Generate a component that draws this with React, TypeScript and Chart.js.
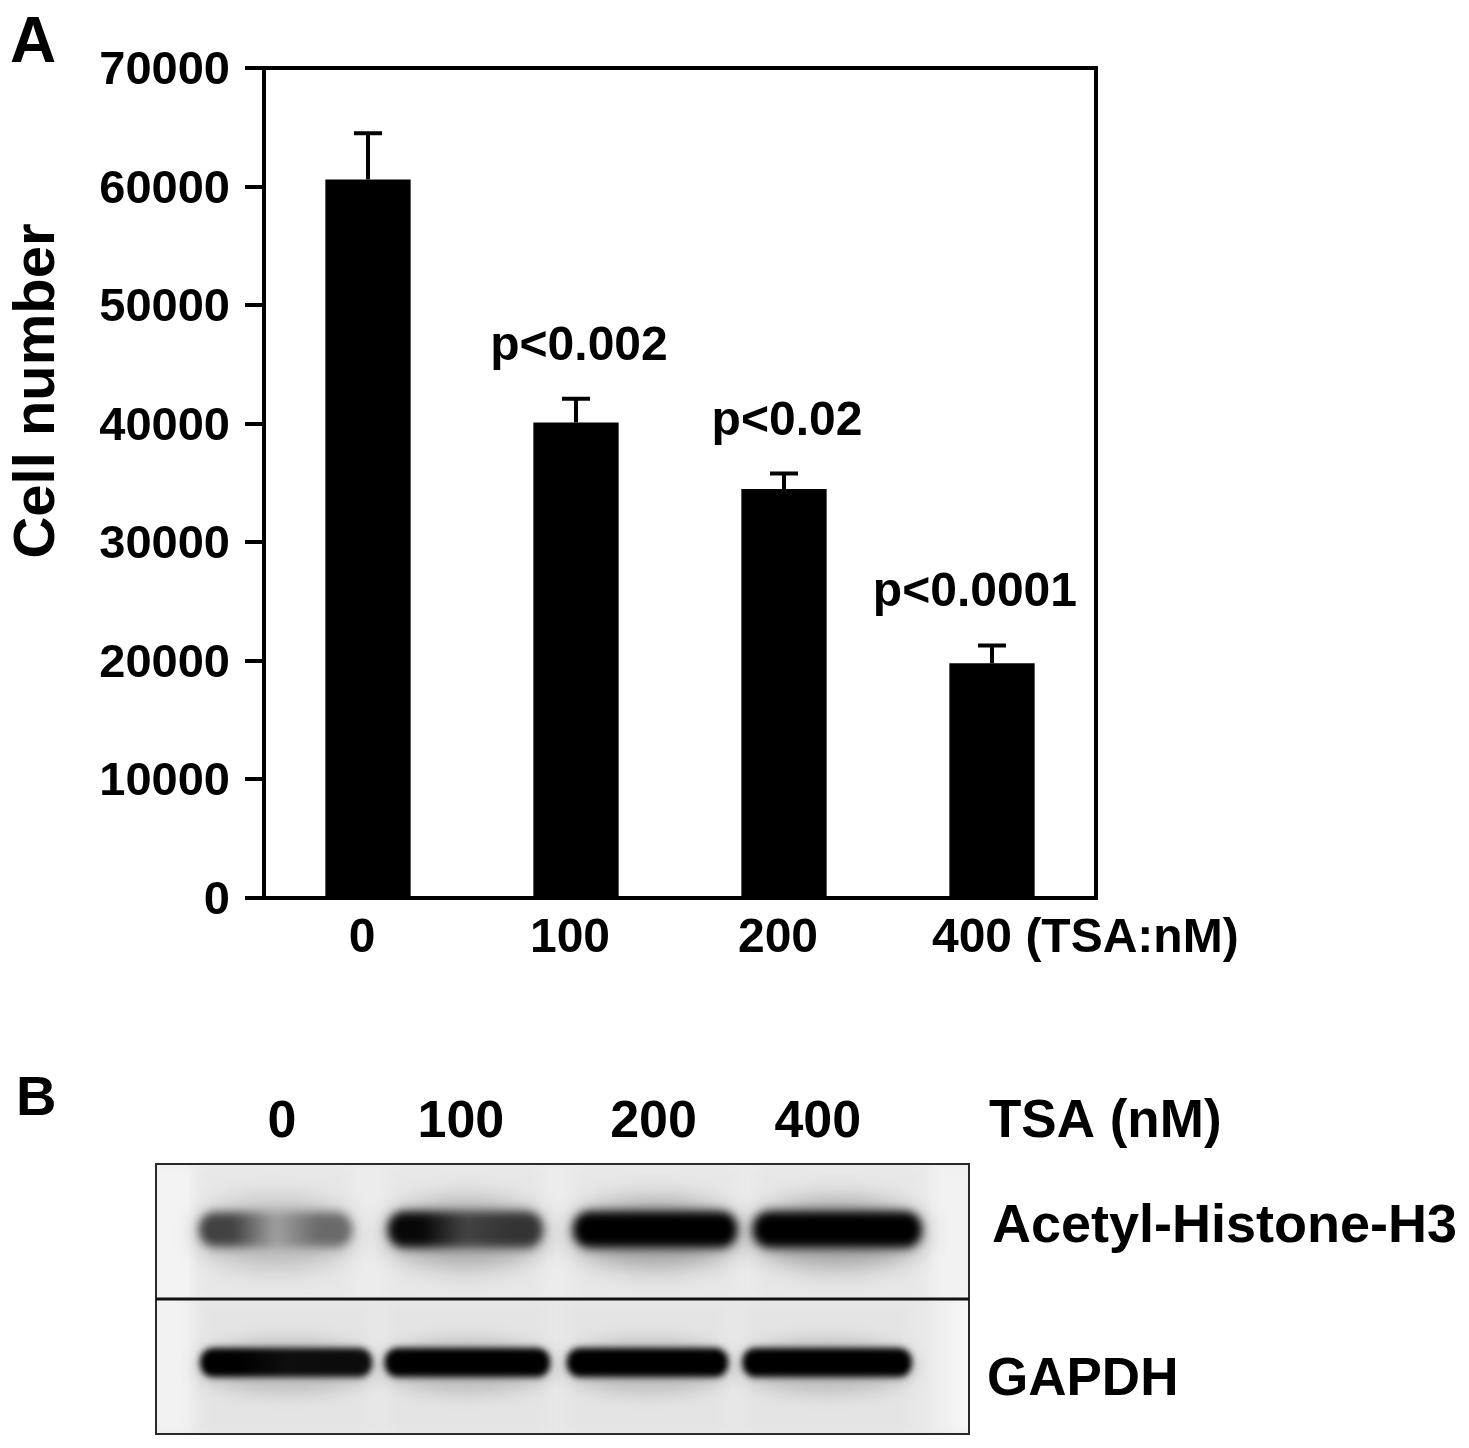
import React, { useEffect, useRef } from 'react';
import { Chart, registerables } from 'chart.js';

Chart.register(...registerables);

const FONT = '"Liberation Sans", Arial, Helvetica, sans-serif';

// ---------- Panel A data ----------
const tsaDoses = ['0', '100', '200', '400'];
const cellNumber = [60600, 40100, 34500, 19800];
const cellNumberError = [3900, 2000, 1300, 1500];
const pValueLabels = ['', 'p<0.002', 'p<0.02', 'p<0.0001'];
const yAxisMin = 0;
const yAxisMax = 70000;
const yAxisStep = 10000;
const yAxisTitle = 'Cell number';
const xUnitLabel = '(TSA:nM)';
const panelALetter = 'A';

// ---------- Panel B data (western blot) ----------
const panelBLetter = 'B';
const blotTitle = 'TSA (nM)';
const blotRows = ['Acetyl-Histone-H3', 'GAPDH'];
const blotLaneLabels = ['0', '100', '200', '400'];
const blotLaneLabelPos = [15.5, 37.5, 61.2, 81.4];
// two sub-spots per lane (x in % of membrane width)
const acetylSpotPos = [9.5, 19.9, 32.7, 43.4, 55.5, 67.3, 77.6, 90.0];
const acetylSignal = [0.72, 0.55, 0.97, 0.78, 1, 1, 1, 1];
const gapdhSpotPos = [10.1, 21.9, 32.8, 43.8, 55.2, 65.7, 76.8, 88.3];
const gapdhSignal = [1, 0.95, 1, 1, 1, 1, 1, 1];

const font = (size: number) => `bold ${size}px ${FONT}`;

const X_TICK_PADDING = 4;
const X_TICK_LENGTH = 8;
const X_FONT_SIZE = 48;

const panelAPlugin = {
  id: 'panelA',
  afterDatasetsDraw(chart: any) {
    const { ctx, chartArea: ca, scales } = chart;
    const y = scales.y;
    const meta = chart.getDatasetMeta(0);
    ctx.save();
    ctx.strokeStyle = '#000';
    ctx.fillStyle = '#000';
    ctx.lineWidth = 4;
    meta.data.forEach((bar: any, i: number) => {
      const base = y.getPixelForValue(cellNumber[i]);
      const top = y.getPixelForValue(cellNumber[i] + cellNumberError[i]);
      ctx.beginPath();
      ctx.moveTo(bar.x, base);
      ctx.lineTo(bar.x, top);
      ctx.moveTo(bar.x - 14, top);
      ctx.lineTo(bar.x + 14, top);
      ctx.stroke();
      if (pValueLabels[i]) {
        ctx.font = font(48);
        ctx.textAlign = 'center';
        ctx.textBaseline = 'alphabetic';
        const tw = ctx.measureText(pValueLabels[i]).width;
        const cx = Math.min(bar.x + 3, ca.right - 19 - tw / 2);
        ctx.fillText(pValueLabels[i], cx, top - 39);
      }
    });
    ctx.lineCap = 'square';
    ctx.beginPath();
    ctx.moveTo(ca.left, ca.top);
    ctx.lineTo(ca.right, ca.top);
    ctx.lineTo(ca.right, ca.bottom);
    ctx.stroke();
    ctx.restore();
  },
  afterDraw(chart: any) {
    const { ctx, chartArea: ca, scales } = chart;
    const xs = scales.x;
    ctx.save();
    ctx.fillStyle = '#000';
    ctx.font = font(64);
    ctx.textAlign = 'left';
    ctx.textBaseline = 'alphabetic';
    ctx.fillText(panelALetter, 10, 62);
    // y title
    ctx.save();
    ctx.translate(38, (ca.top + ca.bottom) / 2 - 92);
    ctx.rotate(-Math.PI / 2);
    ctx.font = font(58);
    ctx.textAlign = 'center';
    ctx.textBaseline = 'middle';
    ctx.fillText(yAxisTitle, 0, 0);
    ctx.restore();
    // last x label with unit
    ctx.font = font(X_FONT_SIZE);
    const last = tsaDoses.length - 1;
    const lx = xs.getPixelForTick(last) - 6;
    const w = ctx.measureText(tsaDoses[last]).width;
    ctx.textAlign = 'left';
    ctx.textBaseline = 'middle';
    ctx.fillText(
      `${tsaDoses[last]} ${xUnitLabel}`,
      lx - w / 2 - 14,
      xs.top + X_TICK_LENGTH + X_TICK_PADDING + (X_FONT_SIZE * 1.2) / 2
    );
    ctx.restore();
  },
};

const grayOf = (v: number) => {
  const g = Math.round(236 * (1 - Math.max(0, Math.min(1, v))));
  return `rgb(${g},${g},${g})`;
};

const blotPlugin = {
  id: 'blot',
  beforeDatasetsDraw(chart: any) {
    const { ctx, chartArea: ca, scales } = chart;
    const x = scales.x;
    const y = scales.y;
    const rowEdge = y.getPixelForValue(0.5);
    const px = (v: number) => x.getPixelForValue(v);
    ctx.save();
    ctx.fillStyle = '#ececec';
    ctx.fillRect(ca.left, ca.top, ca.width, rowEdge - ca.top);
    ctx.fillStyle = '#e9e9e9';
    ctx.fillRect(ca.left, rowEdge, ca.width, ca.bottom - rowEdge);
    ctx.filter = 'blur(6px)';
    ctx.fillStyle = 'rgba(255,255,255,0.4)';
    ctx.fillRect(ca.left - 10, ca.top, px(4.5) - ca.left + 10, ca.height);
    ctx.fillStyle = 'rgba(255,255,255,0.3)';
    ctx.fillRect(px(95.5), ca.top, ca.right - px(95.5) + 10, ca.height);
    ctx.fillStyle = 'rgba(255,255,255,0.6)';
    ctx.fillRect(px(98.3), rowEdge, ca.right - px(98.3) + 10, ca.bottom - rowEdge);
    ctx.filter = 'none';

    const rows = [
      { meta: chart.getDatasetMeta(0), sig: acetylSignal, halfPct: 4.18, h: 36, blur: 5, dy: -2, top: ca.top, bottom: rowEdge, halo: 0.32, haloH: 66, haloBlur: 12 },
      { meta: chart.getDatasetMeta(1), sig: gapdhSignal, halfPct: 4.67, h: 29, blur: 3, dy: -4, top: rowEdge, bottom: ca.bottom, halo: 0.18, haloH: 52, haloBlur: 9 },
    ];
    rows.forEach((r) => {
      ctx.save();
      ctx.beginPath();
      ctx.rect(ca.left, r.top, ca.width, r.bottom - r.top);
      ctx.clip();
      const half = px(r.halfPct) - px(0);
      const pts = r.meta.data;
      for (let k = 0; k + 1 < pts.length; k += 2) {
        const p1 = pts[k];
        const p2 = pts[k + 1];
        const v1 = r.sig[k];
        const v2 = r.sig[k + 1];
        const x0 = p1.x - half;
        const x1 = p2.x + half;
        const total = x1 - x0;
        const cy = (p1.y + p2.y) / 2 + r.dy;
        ctx.filter = 'blur(8px)';
        ctx.fillStyle = 'rgba(0,0,0,0.02)';
        ctx.fillRect(x0, r.top, total, r.bottom - r.top);
        ctx.filter = `blur(${r.haloBlur}px)`;
        ctx.fillStyle = `rgba(0,0,0,${r.halo * (v1 + v2) / 2})`;
        ctx.beginPath();
        ctx.ellipse((x0 + x1) / 2, cy + 4, total / 2 + 4, r.haloH / 2, 0, 0, Math.PI * 2);
        ctx.fill();
        const mid = Math.pow((v1 + v2) / 2, 2.5);
        const g = ctx.createLinearGradient(x0, 0, x1, 0);
        g.addColorStop(0, grayOf(v1));
        g.addColorStop(Math.min(0.49, half / total), grayOf(v1));
        g.addColorStop(0.5, grayOf(mid));
        g.addColorStop(Math.max(0.51, 1 - half / total), grayOf(v2));
        g.addColorStop(1, grayOf(v2));
        ctx.filter = `blur(${r.blur}px)`;
        ctx.globalCompositeOperation = 'darken';
        ctx.fillStyle = g;
        ctx.beginPath();
        const hh = r.h * (0.8 + 0.2 * Math.max(v1, v2));
        if (ctx.roundRect) ctx.roundRect(x0, cy - hh / 2, total, hh, hh / 2.2);
        else ctx.rect(x0, cy - hh / 2, total, hh);
        ctx.fill();
        ctx.globalCompositeOperation = 'source-over';
      }
      ctx.restore();
    });
    ctx.filter = 'none';
    ctx.strokeStyle = '#2a2a2a';
    ctx.lineWidth = 2;
    ctx.strokeRect(ca.left, ca.top, ca.width, ca.height);
    ctx.strokeStyle = '#111';
    ctx.lineWidth = 3;
    ctx.beginPath();
    ctx.moveTo(ca.left, rowEdge);
    ctx.lineTo(ca.right, rowEdge);
    ctx.stroke();
    ctx.restore();
  },
  afterDraw(chart: any) {
    const { ctx, chartArea: ca, scales } = chart;
    const x = scales.x;
    const y = scales.y;
    ctx.save();
    ctx.fillStyle = '#000';
    ctx.textBaseline = 'alphabetic';
    ctx.font = font(56);
    ctx.textAlign = 'left';
    ctx.fillText(panelBLetter, 16, ca.top - 49);
    ctx.font = font(52);
    ctx.textAlign = 'center';
    blotLaneLabels.forEach((lab, i) => {
      ctx.fillText(lab, x.getPixelForValue(blotLaneLabelPos[i]), ca.top - 27);
    });
    ctx.textAlign = 'left';
    ctx.font = font(53);
    ctx.fillText(blotTitle, ca.right + 20, ca.top - 27);
    ctx.font = font(54);
    ctx.fillText(blotRows[0], ca.right + 23, y.getPixelForValue(0) + 10);
    ctx.font = font(53);
    ctx.fillText(blotRows[1], ca.right + 18, y.getPixelForValue(1) + 28);
    ctx.restore();
  },
};

export default function App() {
  const aRef = useRef<HTMLCanvasElement>(null);
  const bRef = useRef<HTMLCanvasElement>(null);

  useEffect(() => {
    const a = new Chart(aRef.current as HTMLCanvasElement, {
      type: 'bar',
      data: {
        labels: tsaDoses,
        datasets: [
          {
            label: yAxisTitle,
            data: cellNumber,
            backgroundColor: '#000',
            borderWidth: 0,
            barPercentage: 0.41,
            categoryPercentage: 1,
          },
        ],
      },
      options: {
        responsive: false,
        animation: false,
        layout: { padding: { top: 68, right: 373, bottom: 0, left: 0 } },
        plugins: { legend: { display: false }, tooltip: { enabled: false } },
        scales: {
          x: {
            grid: { display: false, tickLength: X_TICK_LENGTH },
            border: { display: true, color: '#000', width: 4 },
            ticks: {
              color: '#000',
              font: { family: FONT, size: X_FONT_SIZE, weight: 'bold' },
              padding: X_TICK_PADDING,
              labelOffset: -6,
              maxRotation: 0,
              autoSkip: false,
              callback: (_v: any, i: number) => (i === tsaDoses.length - 1 ? '' : tsaDoses[i]),
            },
            afterFit: (s: any) => {
              s.height = 112;
            },
          },
          y: {
            min: yAxisMin,
            max: yAxisMax,
            ticks: {
              stepSize: yAxisStep,
              color: '#000',
              font: { family: FONT, size: 47, weight: 'bold' },
              padding: 15,
              labelOffset: 3,
              callback: (v: any) => String(v),
            },
            grid: {
              display: true,
              drawOnChartArea: false,
              drawTicks: true,
              tickLength: 19,
              tickWidth: 4,
              tickColor: '#000',
              color: '#000',
              lineWidth: 4,
            },
            border: { display: true, color: '#000', width: 4 },
            afterFit: (s: any) => {
              s.width = 264;
            },
          },
        },
      } as any,
      plugins: [panelAPlugin],
    });

    const b = new Chart(bRef.current as HTMLCanvasElement, {
      type: 'scatter',
      data: {
        datasets: [
          { label: blotRows[0], data: acetylSpotPos.map((p) => ({ x: p, y: blotRows[0] })) as any, pointRadius: 0 },
          { label: blotRows[1], data: gapdhSpotPos.map((p) => ({ x: p, y: blotRows[1] })) as any, pointRadius: 0 },
        ],
      },
      options: {
        responsive: false,
        animation: false,
        layout: { padding: { left: 156, right: 500, top: 154, bottom: 14 } },
        plugins: { legend: { display: false }, tooltip: { enabled: false } },
        scales: {
          x: { type: 'linear', min: 0, max: 100, display: false },
          y: { type: 'category', labels: blotRows, offset: true, display: false },
        },
      } as any,
      plugins: [blotPlugin],
    });

    return () => {
      a.destroy();
      b.destroy();
    };
  }, []);

  return (
    <div style={{ position: 'absolute', left: 0, top: 0, width: 1469, height: 1448, background: '#fff' }}>
      <canvas
        ref={aRef}
        width={1469}
        height={1010}
        style={{ position: 'absolute', left: 0, top: 0, width: 1469, height: 1010 }}
      />
      <canvas
        ref={bRef}
        width={1469}
        height={438}
        style={{ position: 'absolute', left: 0, top: 1010, width: 1469, height: 438 }}
      />
    </div>
  );
}
